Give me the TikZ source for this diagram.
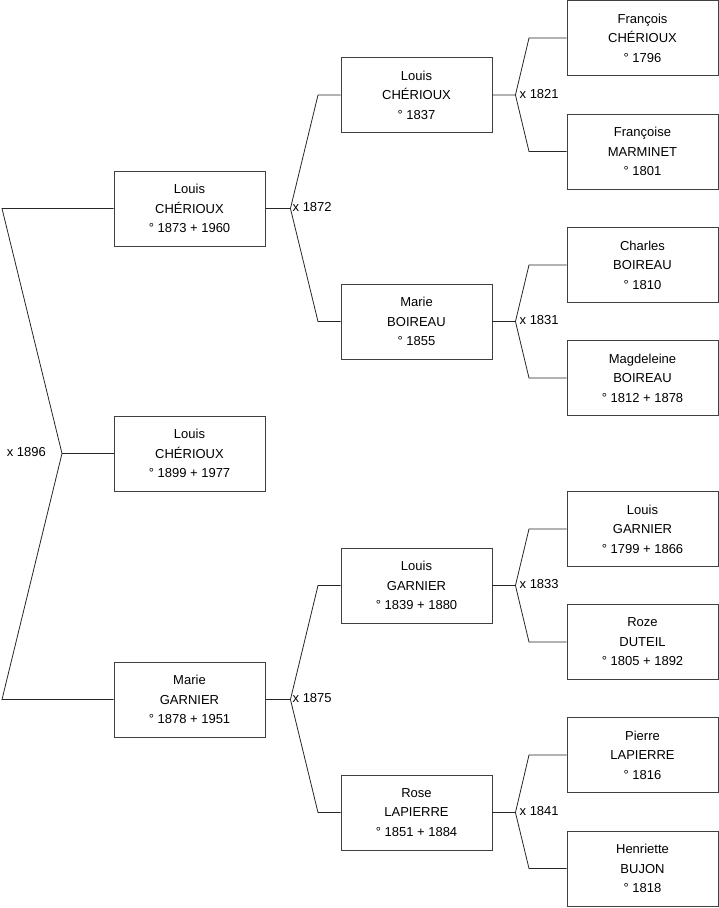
\documentclass[tikz,border=0pt]{standalone}
\usepackage{fontspec}
\setmainfont{Liberation Sans}
\begin{document}
\begin{tikzpicture}[x=1pt,y=-1pt,
  person/.style={draw=black!75,line width=0.9pt,fill=white,minimum width=151pt,minimum height=75pt,inner sep=0pt,align=center,font=\fontsize{13}{19.5}\selectfont},
  link/.style={draw=black!85,line width=0.8pt},
  mlabel/.style={font=\fontsize{13}{15}\selectfont,inner sep=0pt}]
\useasboundingbox (0,0) rectangle (719,908);
% generation 1
\node[person] (g1a) at (189.5,208.5) {Louis\\CHÉRIOUX\\° 1873 + 1960};
\node[person] (g1b) at (189.5,453.5) {Louis\\CHÉRIOUX\\° 1899 + 1977};
\node[person] (g1c) at (189.5,699.5) {Marie\\GARNIER\\° 1878 + 1951};
% generation 2
\node[person] (g2a) at (416.5,95) {Louis\\CHÉRIOUX\\° 1837};
\node[person] (g2b) at (416.5,321.5) {Marie\\BOIREAU\\° 1855};
\node[person] (g2c) at (416.5,585.5) {Louis\\GARNIER\\° 1839 + 1880};
\node[person] (g2d) at (416.5,812.5) {Rose\\LAPIERRE\\° 1851 + 1884};
% generation 3
\node[person] (g3a) at (642.5,38) {François\\CHÉRIOUX\\° 1796};
\node[person] (g3b) at (642.5,151.5) {Françoise\\MARMINET\\° 1801};
\node[person] (g3c) at (642.5,265) {Charles\\BOIREAU\\° 1810};
\node[person] (g3d) at (642.5,378) {Magdeleine\\BOIREAU\\° 1812 + 1878};
\node[person] (g3e) at (642.5,529) {Louis\\GARNIER\\° 1799 + 1866};
\node[person] (g3f) at (642.5,642) {Roze\\DUTEIL\\° 1805 + 1892};
\node[person] (g3g) at (642.5,755) {Pierre\\LAPIERRE\\° 1816};
\node[person] (g3h) at (642.5,868.5) {Henriette\\BUJON\\° 1818};
% root marriage
\coordinate (v0) at (62,453.5);
\draw[link] (g1a.west) -- (g1a.west -| 2,0) -- (v0) -- (g1c.west -| 2,0) -- (g1c.west);
\draw[link] (v0) -- (g1b.west);
\node[mlabel,anchor=east] (m0) at (46,452.5) {x 1896};
% generation 1 -> 2
\foreach \c/\f/\m/\y in {g1a/g2a/g2b/1872, g1c/g2c/g2d/1875}{
  \draw[link] (\c.east) -- ++(25,0) coordinate (v\y) -- (\f.west -| 318,0) -- (\f.west);
  \draw[link] (v\y) -- (\m.west -| 318,0) -- (\m.west);
  \node[mlabel,anchor=west] (m\y) at ([xshift=2pt,yshift=1pt]v\y) {x \y};
}
% generation 2 -> 3
\foreach \c/\f/\m/\y in {g2a/g3a/g3b/1821, g2b/g3c/g3d/1831, g2c/g3e/g3f/1833, g2d/g3g/g3h/1841}{
  \draw[link] (\c.east) -- ++(23,0) coordinate (v\y) -- (\f.west -| 529,0) -- (\f.west);
  \draw[link] (v\y) -- (\m.west -| 529,0) -- (\m.west);
  \node[mlabel,anchor=west] (m\y) at ([xshift=4pt,yshift=1pt]v\y) {x \y};
}
\end{tikzpicture}
\end{document}
